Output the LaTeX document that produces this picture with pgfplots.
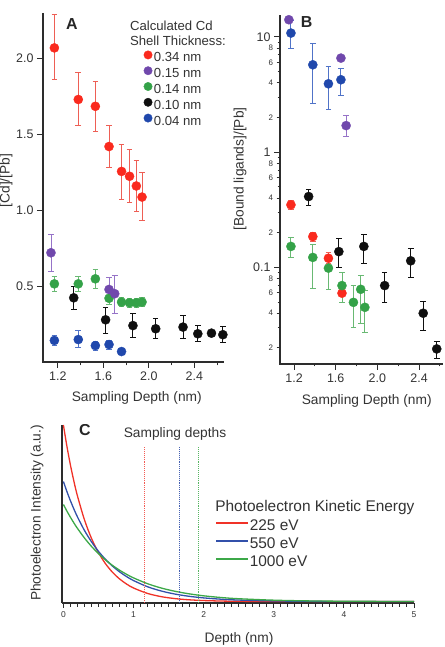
\documentclass[border=0pt]{standalone}
\usepackage{fontspec}
\setmainfont{Liberation Sans}
\usepackage{pgfplots}
\pgfplotsset{compat=1.18}
\usepackage{pgfplotstable}

\definecolor{cdred}{RGB}{250,42,30}
\definecolor{cdredbar}{RGB}{238,95,85}
\definecolor{cdpurple}{RGB}{112,72,172}
\definecolor{cdpurplebar}{RGB}{150,115,200}
\definecolor{cdgreen}{RGB}{52,162,72}
\definecolor{cdgreenbar}{RGB}{105,185,115}
\definecolor{cdblack}{RGB}{15,15,15}
\definecolor{cdblue}{RGB}{32,72,172}
\definecolor{cdbluebar}{RGB}{80,115,200}
\definecolor{axgray}{RGB}{45,45,45}
\definecolor{kered}{RGB}{240,50,40}
\definecolor{keblue}{RGB}{50,80,170}
\definecolor{kegreen}{RGB}{60,168,72}

% ---------- Panel A: [Cd]/[Pb] vs sampling depth ----------
\pgfplotstableread{
x     y      ep     em
1.17  2.07   0.22   0.21
1.38  1.73   0.18   0.17
1.53  1.685  0.165  0.165
1.65  1.42   0.14   0.135
1.76  1.256  0.18   0.186
1.83  1.224  0.176  0.174
1.89  1.16   0.17   0.167
1.94  1.087  0.159  0.157
}\Ared
\pgfplotstableread{
x     y      ep     em
1.14  0.72   0.12   0.12
1.65  0.478  0.077  0.078
1.70  0.45   0.12   0.13
}\Apurple
\pgfplotstableread{
x     y      ep     em
1.17  0.515  0.05   0.05
1.38  0.515  0.05   0.05
1.53  0.548  0.065  0.065
1.65  0.42   0.04   0.04
1.76  0.395  0.03   0.03
1.83  0.39   0.03   0.03
1.89  0.39   0.03   0.03
1.94  0.395  0.03   0.03
}\Agreen
\pgfplotstableread{
x     y      ep     em
1.34  0.423  0.075  0.079
1.62  0.278  0.079  0.088
1.86  0.24   0.078  0.076
2.06  0.219  0.07   0.067
2.30  0.23   0.077  0.073
2.43  0.186  0.054  0.051
2.55  0.19   0.02   0.02
2.65  0.18   0.053  0.05
}\Ablack
\pgfplotstableread{
x     y      ep     em
1.17  0.142  0.03   0.03
1.38  0.148  0.06   0.05
1.53  0.108  0.03   0.03
1.65  0.115  0.03   0.03
1.76  0.069  0      0
}\Ablue

% ---------- Panel B: [Bound ligands]/[Pb] vs sampling depth ----------
\pgfplotstableread{
x     y      ep     em
1.15  14.1   0      0
1.65  6.55   0      0
1.70  1.70   0.40   0.32
}\Bpurple
\pgfplotstableread{
x     y      ep     em
1.17  10.8   3.0    2.8
1.38  5.73   3.07   3.1
1.53  3.92   1.63   1.59
1.65  4.25   1.1    1.15
}\Bblue
\pgfplotstableread{
x     y       ep      em
1.34  0.412   0.058   0.068
1.63  0.137   0.040   0.037
1.87  0.152   0.042   0.043
2.07  0.0695  0.0205  0.0195
2.32  0.114   0.033   0.032
2.44  0.040   0.011   0.0117
2.57  0.0196  0.0031  0.0033
}\Bblack
\pgfplotstableread{
x     y       ep      em
1.17  0.349   0.029   0.033
1.38  0.185   0.015   0.017
1.53  0.12    0.015   0.011
1.66  0.0597  0.0073  0.0097
}\Bred
\pgfplotstableread{
x     y       ep      em
1.17  0.152   0.031   0.030
1.38  0.122   0.035   0.057
1.53  0.0985  0.0135  0.034
1.66  0.0695  0.0205  0.0195
1.77  0.0497  0.0198  0.0197
1.84  0.0645  0.0205  0.0318
1.88  0.045   0.018   0.0176
}\Bgreen

% ---------- Panel C: depth profiles of photoelectron intensity ----------
\pgfplotstableread{
z     r       b       g
0     1.0000  0.6800  0.5500
0.05  0.8797  0.6233  0.5125
0.1   0.7738  0.5713  0.4777
0.15  0.6807  0.5237  0.4451
0.2   0.5988  0.4799  0.4148
0.3   0.4634  0.4032  0.3603
0.4   0.3586  0.3388  0.3128
0.5   0.2775  0.2846  0.2717
0.6   0.2147  0.2391  0.2360
0.7   0.1661  0.2009  0.2049
0.8   0.1286  0.1688  0.1780
0.9   0.0995  0.1418  0.1546
1.0   0.0770  0.1191  0.1342
1.2   0.0461  0.0840  0.1013
1.4   0.0276  0.0594  0.0763
1.6   0.0165  0.0419  0.0576
1.8   0.0099  0.0296  0.0435
2.0   0.0059  0.0209  0.0327
2.25  0.0031  0.0135  0.0230
2.5   0.0016  0.0087  0.0162
3.0   0.0005  0.0037  0.0080
3.5   0.0002  0.0015  0.0039
4.0   0.0001  0.0006  0.0020
4.5   0.0000  0.0003  0.0010
5.0   0.0000  0.0001  0.0005
}\Cprof

\pgfplotsset{
  igor/.style={
    scale only axis,
    axis lines=left, axis line style={-, draw=axgray, line width=1.5bp},
    tick align=outside,
    every tick/.style={draw=axgray, line width=1bp},
    major tick length=6bp, minor tick length=3.5bp,
    tick label style={font=\fontsize{12.5}{14}\selectfont, text=black!80},
    label style={font=\fontsize{13.8}{16}\selectfont, text=black!80},
    /pgf/number format/assume math mode=true,
  },
  dots/.style 2 args={
    only marks, mark=*, mark size=4.6bp,
    mark options={solid, fill=#1, draw=#1, line width=0.3bp},
    error bars/y dir=both, error bars/y explicit,
    error bars/error bar style={line width=0.9bp, #2},
    error bars/error mark options={rotate=90, mark size=2.8bp, line width=0.9bp, #2},
  },
}

\begin{document}
\begin{tikzpicture}
\useasboundingbox (0,0) rectangle (445bp,647bp);

% ===== A =====
\begin{axis}[igor,
  at={(43bp,285bp)}, anchor=south west,
  width=181bp, height=349bp,
  xmin=1.07, xmax=2.66, ymin=0, ymax=2.3,
  xtick={1.2,1.6,2.0,2.4}, xticklabels={1.2,1.6,2.0,2.4},
  minor xtick={1.4,1.8,2.2,2.6},
  ytick={0.5,1,1.5,2}, yticklabels={0.5,1.0,1.5,2.0},
  clip=false,
  xlabel={Sampling Depth (nm)},
  ylabel={[Cd]/[Pb]},
  xlabel style={at={(axis description cs:0.518,-0.103)}, anchor=center},
  ylabel style={at={(axis description cs:-0.204,0.52)}, anchor=center, rotate=0},
  legend style={at={(axis description cs:0.555,0.893)}, anchor=north west,
    draw=none, fill=none, inner sep=0pt, row sep=0.4bp,
    font=\fontsize{13.2}{14}\selectfont, text=black!80,
    nodes={inner sep=1.5bp, text height=9.5bp, text depth=2.5bp}},
  legend cell align=left,
  legend image code/.code={\fill[#1] (0.3em,0.35em) circle (4.2bp);},
]
\draw[axgray, line width=1.5bp] (rel axis cs:0,1) -- (rel axis cs:0,0) -- (rel axis cs:1,0);
\addplot[forget plot, dots={cdred}{cdredbar}] table[x=x, y=y, y error plus=ep, y error minus=em] {\Ared};
\addplot[forget plot, dots={cdgreen}{cdgreenbar}] table[x=x, y=y, y error plus=ep, y error minus=em] {\Agreen};
\addplot[forget plot, dots={cdpurple}{cdpurplebar}] table[x=x, y=y, y error plus=ep, y error minus=em] {\Apurple};
\addplot[forget plot, dots={cdblack}{cdblack}] table[x=x, y=y, y error plus=ep, y error minus=em] {\Ablack};
\addplot[forget plot, dots={cdblue}{cdbluebar}] table[x=x, y=y, y error plus=ep, y error minus=em] {\Ablue};
\addlegendimage{cdred}\addlegendentry{0.34 nm}
\addlegendimage{cdpurple}\addlegendentry{0.15 nm}
\addlegendimage{cdgreen}\addlegendentry{0.14 nm}
\addlegendimage{cdblack}\addlegendentry{0.10 nm}
\addlegendimage{cdblue}\addlegendentry{0.04 nm}
\node[anchor=north west, align=left, inner sep=0pt, text=black!80,
  font=\fontsize{13.2}{15.5}\selectfont] at (axis description cs:0.48,0.978)
  {Calculated Cd\\Shell Thickness:};
\node[font=\bfseries\fontsize{16}{18}\selectfont, text=black!85] at (axis description cs:0.16,0.968) {A};
\end{axis}

% ===== B =====
\begin{axis}[igor,
  at={(280bp,283bp)}, anchor=south west,
  width=163bp, height=349bp,
  xmin=1.065, xmax=2.63,
  ymode=log, ymin=0.0145, ymax=15.5,
  xtick={1.2,1.6,2.0,2.4}, xticklabels={1.2,1.6,2.0,2.4},
  minor xtick={1.4,1.8,2.2,2.6},
  ytick={0.1,1,10}, yticklabels={0.1,1,10},
  minor ytick={0.03,0.05,0.07,0.09,0.3,0.5,0.7,0.9,3,5,7,9},
  minor tick length=2.5bp,
  extra y ticks={0.02,0.04,0.06,0.08,0.2,0.4,0.6,0.8,2,4,6,8},
  extra y tick labels={2,4,6,8,2,4,6,8,2,4,6,8},
  extra y tick style={major tick length=3.5bp,
    tick label style={font=\fontsize{8}{9}\selectfont}},
  clip=false,
  xlabel={Sampling Depth (nm)},
  ylabel={[Bound ligands]/[Pb]},
  xlabel style={at={(axis description cs:0.532,-0.106)}, anchor=center},
  ylabel style={at={(axis description cs:-0.245,0.559)}, anchor=center, rotate=0},
]
\draw[axgray, line width=1.5bp] (rel axis cs:0,1) -- (rel axis cs:0,0) -- (rel axis cs:1,0);
\addplot[dots={cdblack}{cdblack}] table[x=x, y=y, y error plus=ep, y error minus=em] {\Bblack};
\addplot[dots={cdred}{cdredbar}] table[x=x, y=y, y error plus=ep, y error minus=em] {\Bred};
\addplot[dots={cdgreen}{cdgreenbar}] table[x=x, y=y, y error plus=ep, y error minus=em] {\Bgreen};
\addplot[dots={cdblue}{cdbluebar}] table[x=x, y=y, y error plus=ep, y error minus=em] {\Bblue};
\addplot[dots={cdpurple}{cdpurplebar}] table[x=x, y=y, y error plus=ep, y error minus=em] {\Bpurple};
\node[font=\bfseries\fontsize{16}{18}\selectfont, text=black!85] at (axis description cs:0.164,0.981) {B};
\end{axis}

% ===== C =====
\begin{axis}[igor,
  at={(62bp,44bp)}, anchor=south west,
  width=352bp, height=178bp,
  xmin=-0.02, xmax=5, ymin=-0.008, ymax=1,
  xtick={0,1,2,3,4,5}, minor x tick num=9,
  major tick length=5bp, minor tick length=3.5bp,
  ytick=\empty,
  tick label style={font=\fontsize{8.5}{10}\selectfont},
  xlabel={Depth (nm)},
  ylabel={Photoelectron Intensity (a.u.)},
  xlabel style={at={(axis description cs:0.503,-0.202)}, anchor=center},
  ylabel style={at={(axis description cs:-0.071,0.506)}, anchor=center, rotate=0},
  legend style={at={(axis description cs:0.435,0.478)}, anchor=north west,
    draw=none, fill=none, inner sep=0pt, row sep=2bp,
    font=\fontsize{15.5}{17}\selectfont, text=black!80,
    nodes={inner sep=1bp, text height=11.5bp, text depth=2.5bp}},
  legend cell align=left,
  legend image code/.code={\draw[#1, line width=1.5bp] (0bp,0.3em) -- (32bp,0.3em);},
]
\draw[axgray, line width=1.5bp] (rel axis cs:0,1) -- (rel axis cs:0,0) -- (rel axis cs:1,0);
\addplot[kered, line width=1.3bp, smooth] table[x=z, y=r] {\Cprof};
\addlegendentry{225 eV}
\addplot[keblue, line width=1.3bp, smooth] table[x=z, y=b] {\Cprof};
\addlegendentry{550 eV}
\addplot[kegreen, line width=1.3bp, smooth] table[x=z, y=g] {\Cprof};
\addlegendentry{1000 eV}
% sampling depths
\addplot[kered!80, densely dotted, line width=1.1bp, forget plot] coordinates {(1.16,-0.008) (1.16,0.88)};
\addplot[keblue!90, densely dotted, line width=1.1bp, forget plot] coordinates {(1.65,-0.008) (1.65,0.88)};
\addplot[kegreen!85, densely dotted, line width=1.1bp, forget plot] coordinates {(1.93,-0.008) (1.93,0.88)};
\node[font=\fontsize{13.8}{16}\selectfont, text=black!80] at (axis description cs:0.321,0.949) {Sampling depths};
\node[anchor=west, inner sep=0pt, font=\fontsize{15.5}{17}\selectfont, text=black!80] at (axis description cs:0.435,0.539) {Photoelectron Kinetic Energy};
\node[font=\bfseries\fontsize{16}{18}\selectfont, text=black!85] at (axis description cs:0.065,0.972) {C};
\end{axis}
\end{tikzpicture}
\end{document}
